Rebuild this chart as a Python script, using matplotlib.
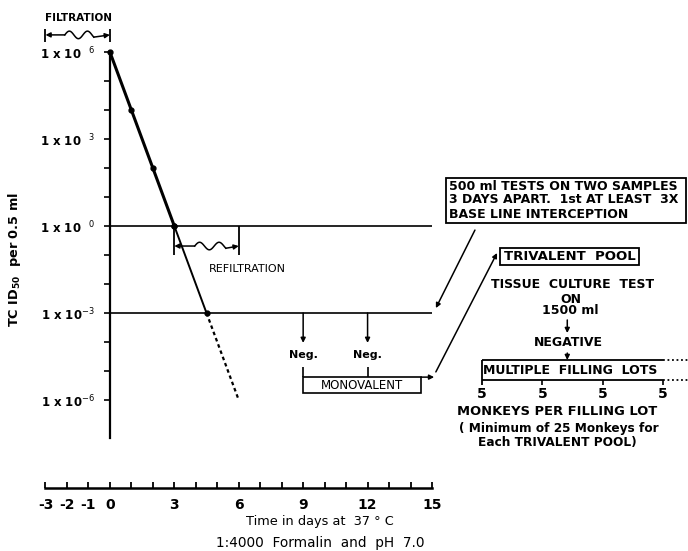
import numpy as np
import matplotlib
matplotlib.use("Agg")
import matplotlib.pyplot as plt
from matplotlib.patches import Rectangle

# ---- data ----
days = [0, 1, 2, 3, 4.5]
log_titre = [6, 4, 2, 0, -3]
extrap_days = [4.5, 6]
extrap_log = [-3, -6]
ytick_vals = [6, 3, 0, -3, -6]
ytick_labels = [r"1 x 10  $^{6}$", r"1 x 10  $^{3}$", r"1 x 10  $^{0}$", r"1 x 10$^{-3}$", r"1 x 10$^{-6}$"]
xtick_major = [-3, -2, -1, 0, 3, 6, 9, 12, 15]
xtick_labels = ["-3", "-2", "-1", "0", "3", "6", "9", "12", "15"]
baseline_log = 0
limit_log = -3
neg_days = [9, 12]
neg_labels = ["Neg.", "Neg."]
monkeys_per_lot = [5, 5, 5, 5]

plt.rcParams["font.family"] = ["DejaVu Sans"]
plt.rcParams["mathtext.fontset"] = "dejavusans"

fig = plt.figure(figsize=(6.88, 5.51), dpi=100)
ax = fig.add_axes([0.0661, 0.1143, 0.5618, 0.7913])
ax.set_xlim(-3, 15)
ax.set_ylim(-9.034, 6)

for s in ("top", "right"):
    ax.spines[s].set_visible(False)
ax.spines["left"].set_position(("data", 0))
ax.spines["left"].set_bounds(-7.3, 6)
ax.spines["bottom"].set_bounds(-3, 15)
ax.spines["left"].set_linewidth(1.6)
ax.spines["bottom"].set_linewidth(1.8)

ax.set_yticks(ytick_vals)
ax.set_yticklabels(ytick_labels, fontsize=8.5, fontweight="bold")
ax.set_yticks(list(range(-5, 6)), minor=True)
ax.tick_params(axis="y", which="both", direction="out", length=4.5, width=1.2, pad=6)
ax.set_xticks(xtick_major)
ax.set_xticklabels(xtick_labels, fontsize=10, fontweight="bold")
ax.set_xticks(list(range(-3, 16)), minor=True)
ax.tick_params(axis="x", which="both", direction="in", length=4, width=1.3, pad=7)

# ---- inactivation curve ----
ax.plot(days[:4], log_titre[:4], color="k", lw=2.2, marker="o", ms=3.5, clip_on=False)
ax.plot(days[3:], log_titre[3:], color="k", lw=1.4, marker="o", ms=3.5, clip_on=False)
ax.plot(extrap_days, extrap_log, color="k", lw=1.6, ls=(0, (1.6, 1.4)))

ax.hlines([baseline_log, limit_log], 0, 15, color="k", lw=1.2)

arrow_kw = dict(arrowstyle="-|>", color="k", lw=1.1, shrinkA=0, shrinkB=0, mutation_scale=7)

def bracket(x0, x1, y, ybar0, ybar1, w0, w1, amp):
    ax.vlines([x0, x1], ybar0, ybar1, color="k", lw=1.3, clip_on=False)
    t = np.linspace(0, 1, 80)
    xs = w0 + (w1 - w0) * t
    ys = y + amp * np.sin(2 * np.pi * 1.6 * t)
    ax.plot(xs, ys, color="k", lw=1.1, clip_on=False)
    ax.annotate("", xy=(x0, y), xytext=(w0, y), arrowprops=arrow_kw, annotation_clip=False)
    ax.annotate("", xy=(x1, y), xytext=(w1, ys[-1]), arrowprops=arrow_kw, annotation_clip=False)

bracket(-3, 0, 6.59, 6.33, 6.8, -2.1, -0.75, 0.13)
ax.text(-1.45, 7.17, "FILTRATION", ha="center", va="center", fontsize=7.5, fontweight="bold")
bracket(3, 6, -0.69, 0, -1.0, 3.95, 5.4, 0.13)
ax.text(6.38, -1.48, "REFILTRATION", ha="center", va="center", fontsize=8)

ax.text(-4.42, -1.17, r"TC ID$_{\mathbf{50}}$  per 0.5 ml", rotation=90, ha="center", va="center",
        fontsize=9.3, fontweight="bold")

# ---- safety tests ----
for d, lab in zip(neg_days, neg_labels):
    ax.annotate("", xy=(d, -4.03), xytext=(d, limit_log), arrowprops=arrow_kw)
    ax.text(d, -4.45, lab, ha="center", va="center", fontsize=8, fontweight="bold")
    ax.vlines(d, -4.86, -5.21, color="k", lw=1.2)

ax.add_patch(Rectangle((9, -5.76), 5.49, 0.55, fill=False, ec="k", lw=1.2, clip_on=False))
ax.text(11.74, -5.49, "MONOVALENT", ha="center", va="center", fontsize=8.5)
ax.annotate("", xy=(15.1, -5.21), xytext=(14.49, -5.21), arrowprops=arrow_kw, annotation_clip=False)

ax.add_patch(Rectangle((15.65, 0.10), 11.2, 1.555, fill=False, ec="k", lw=1.3, clip_on=False))
for yy, line in zip([1.38, 0.90, 0.41],
                    ["500 ml TESTS ON TWO SAMPLES", "3 DAYS APART.  1st AT LEAST  3X",
                     "BASE LINE INTERCEPTION"]):
    ax.text(15.8, yy, line, ha="left", va="center", fontsize=9, fontweight="bold")

ax.annotate("", xy=(15.18, -2.83), xytext=(17.0, -0.14), arrowprops=arrow_kw, annotation_clip=False)
ax.annotate("", xy=(18.03, -0.93), xytext=(15.18, -5.03), arrowprops=arrow_kw, annotation_clip=False)

ax.add_patch(Rectangle((18.16, -1.34), 6.48, 0.58, fill=False, ec="k", lw=1.3, clip_on=False))
ax.text(21.4, -1.05, "TRIVALENT  POOL", ha="center", va="center", fontsize=9.5, fontweight="bold")

ax.text(21.56, -2.03, "TISSUE  CULTURE  TEST", ha="center", va="center", fontsize=9, fontweight="bold")
ax.text(21.45, -2.52, "ON", ha="center", va="center", fontsize=9, fontweight="bold")
ax.text(21.45, -2.93, "1500 ml", ha="center", va="center", fontsize=9, fontweight="bold")
ax.annotate("", xy=(21.3, -3.69), xytext=(21.3, -3.24), arrowprops=arrow_kw, annotation_clip=False)
ax.text(21.35, -4.03, "NEGATIVE", ha="center", va="center", fontsize=9, fontweight="bold")
ax.annotate("", xy=(21.3, -4.62), xytext=(21.3, -4.38), arrowprops=arrow_kw, annotation_clip=False)

lot_x = np.linspace(17.33, 25.76, len(monkeys_per_lot))
ax.vlines(lot_x[0], -4.62, -5.48, color="k", lw=1.3, clip_on=False)
ax.hlines([-4.62, -5.31], lot_x[0], lot_x[-1], color="k", lw=1.3, clip_on=False)
ax.hlines([-4.62, -5.31], lot_x[-1], 26.9, color="k", lw=1.3, ls=(0, (1, 1.5)), clip_on=False)
ax.vlines(lot_x[1:], -5.31, -5.48, color="k", lw=1.2, clip_on=False)
ax.text(21.43, -4.97, "MULTIPLE  FILLING  LOTS", ha="center", va="center", fontsize=9, fontweight="bold")
for xx, m in zip(lot_x, monkeys_per_lot):
    ax.text(xx, -5.78, str(m), ha="center", va="center", fontsize=10, fontweight="bold")
ax.text(20.82, -6.41, "MONKEYS PER FILLING LOT", ha="center", va="center", fontsize=9.4, fontweight="bold")
ax.text(20.9, -6.97, "( Minimum of 25 Monkeys for", ha="center", va="center", fontsize=8.7, fontweight="bold")
ax.text(20.82, -7.48, "Each TRIVALENT POOL)", ha="center", va="center", fontsize=8.7, fontweight="bold")

ax.text(9.78, -10.2, "Time in days at  37 \u00b0 C", ha="center", va="center", fontsize=9.3)
ax.text(9.78, -10.93, "1:4000  Formalin  and  pH  7.0", ha="center", va="center", fontsize=9.8)

fig.savefig("out.png", dpi=100)
